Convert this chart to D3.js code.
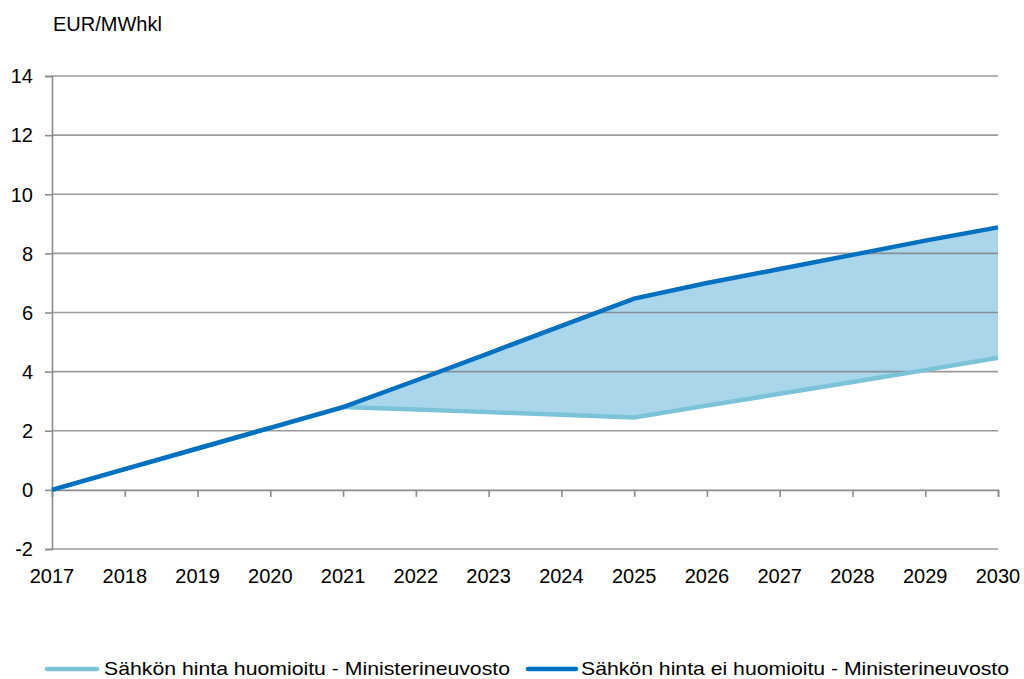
<!DOCTYPE html>
<html>
<head>
<meta charset="utf-8">
<script src="https://cdn.jsdelivr.net/npm/d3@7/dist/d3.min.js"></script>
<style>
  body { margin: 0; background: #fff; }
  text { font-family: "Liberation Sans", Arial, sans-serif; fill: #000; }
</style>
</head>
<body>
<svg id="chart" width="1024" height="679"></svg>
<script>
const years = [2017, 2018, 2019, 2020, 2021, 2022, 2023, 2024, 2025, 2026, 2027, 2028, 2029, 2030];
const priceIncluded = [0, 0.7, 1.4, 2.1, 2.8, 2.72, 2.63, 2.54, 2.45, 2.85, 3.25, 3.65, 4.05, 4.47];
const priceExcluded = [0, 0.7, 1.4, 2.1, 2.8, 3.7, 4.62, 5.55, 6.47, 7.0, 7.47, 7.95, 8.43, 8.88];
const yTicks = [-2, 0, 2, 4, 6, 8, 10, 12, 14];
const unitLabel = "EUR/MWhkl";
const seriesNames = ["Sähkön hinta huomioitu - Ministerineuvosto", "Sähkön hinta ei huomioitu - Ministerineuvosto"];
const colors = ["#7cc3da", "#0070c0"];

(function () {
const svg = d3.select("#chart");
const plotLeft = 52, plotRight = 998, plotTop = 76, plotBottom = 549;
const fontSize = 20;

const x = d3.scaleLinear().domain([2017, 2030]).range([plotLeft, plotRight]);
const y = d3.scaleLinear().domain([-2, 14]).range([plotBottom, plotTop]);

const rows = years.map((yr, i) => ({ yr, lo: priceIncluded[i], hi: priceExcluded[i] }));

// Shaded band between the two price paths
svg.append("path")
  .datum(rows)
  .attr("fill", "#a9d6ea")
  .attr("d", d3.area().x(d => x(d.yr)).y0(d => y(d.lo)).y1(d => y(d.hi)));

// Horizontal gridlines
svg.append("g")
  .selectAll("line")
  .data(yTicks.filter(t => t !== 0))
  .join("line")
  .attr("x1", plotLeft).attr("x2", plotRight)
  .attr("y1", d => y(d)).attr("y2", d => y(d))
  .attr("stroke", "#7a7a7a").attr("stroke-opacity", 0.75).attr("stroke-width", 1.6);

// Y axis (plain hyphen for negatives)
const yAxis = svg.append("g")
  .attr("transform", `translate(${plotLeft},0)`)
  .call(d3.axisLeft(y).tickValues(yTicks).tickSize(7).tickPadding(12).tickFormat(d => String(d)));
yAxis.select(".domain").attr("stroke", "#8c8c8c").attr("stroke-width", 1.6);
yAxis.selectAll(".tick line").attr("stroke", "#8c8c8c").attr("stroke-width", 1.6);
yAxis.selectAll(".tick text")
  .attr("font-size", fontSize)
  .attr("font-family", "Liberation Sans, Arial, sans-serif")
  .attr("fill", "#000")
  .attr("dy", "0.34em");

// X axis along zero with downward ticks
const xAxis = svg.append("g")
  .attr("transform", `translate(0,${y(0)})`)
  .call(d3.axisBottom(x).tickValues(years).tickSize(7).tickFormat(""));
xAxis.select(".domain").attr("stroke", "#8c8c8c").attr("stroke-width", 1.6);
xAxis.selectAll(".tick line").attr("stroke", "#8c8c8c").attr("stroke-width", 1.6);

// Year labels below the plot
svg.append("g")
  .selectAll("text")
  .data(years)
  .join("text")
  .attr("x", d => x(d))
  .attr("y", 583)
  .attr("text-anchor", "middle")
  .attr("font-size", fontSize)
  .text(d => d);

// Unit label
svg.append("text")
  .attr("x", 53).attr("y", 31)
  .attr("font-size", fontSize)
  .text(unitLabel);

// Series lines
const line = key => d3.line().x(d => x(d.yr)).y(d => y(d[key]));
svg.append("path").datum(rows)
  .attr("fill", "none").attr("stroke", colors[0]).attr("stroke-width", 4.5)
  .attr("d", line("lo"));
svg.append("path").datum(rows)
  .attr("fill", "none").attr("stroke", colors[1]).attr("stroke-width", 4.5)
  .attr("d", line("hi"));

// Legend (condensed text)
const legendItems = [
  { x0: 47, x1: 97, tx: 104, tw: 406 },
  { x0: 528, x1: 576, tx: 581, tw: 428 }
];
const lg = svg.append("g");
legendItems.forEach((it, i) => {
  lg.append("line")
    .attr("x1", it.x0).attr("x2", it.x1).attr("y1", 669).attr("y2", 669)
    .attr("stroke", colors[i]).attr("stroke-width", 4.5).attr("stroke-linecap", "round");
  lg.append("text")
    .attr("x", it.tx).attr("y", 675)
    .attr("font-size", 19)
    .attr("textLength", it.tw)
    .attr("lengthAdjust", "spacingAndGlyphs")
    .text(seriesNames[i]);
});
})();
</script>
</body>
</html>
